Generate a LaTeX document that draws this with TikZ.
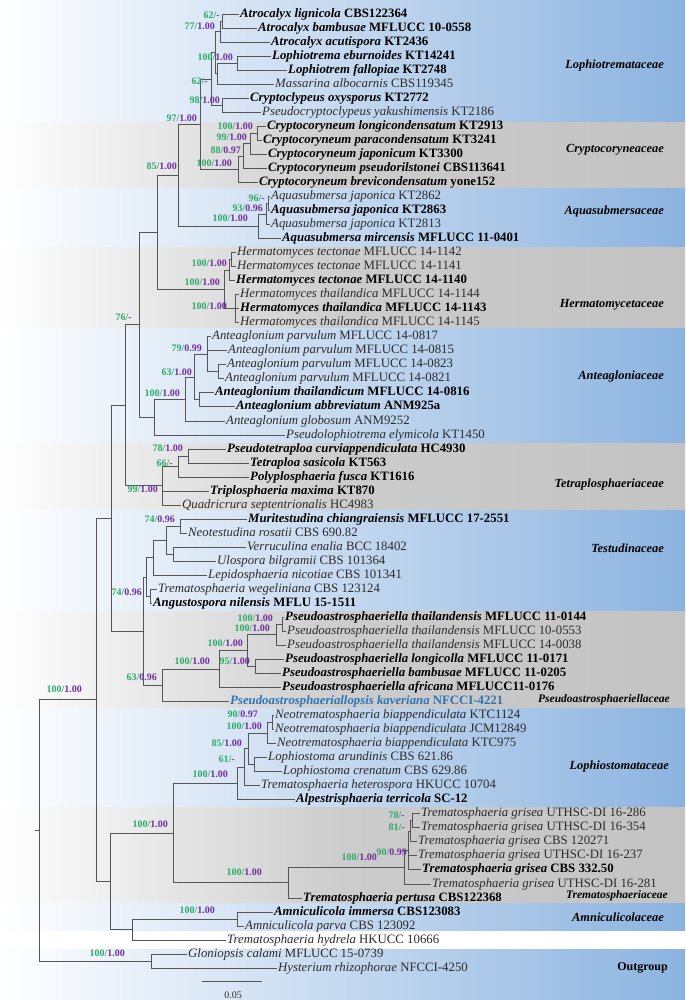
\documentclass[tikz,border=0pt]{standalone}
\usepackage{fontspec}
\setmainfont{Liberation Serif}
\definecolor{bsg}{HTML}{2DAA6A}
\definecolor{bsp}{HTML}{7030A0}
\definecolor{bandblue}{HTML}{8BB3E0}
\definecolor{bandgray}{HTML}{C3C3C3}
\definecolor{treeline}{HTML}{555555}
\definecolor{taxgray}{HTML}{2B2B2B}
\definecolor{kavblue}{HTML}{2E75B6}
\newcommand{\tn}[2]{\textcolor{taxgray}{\textit{#1} #2}}
\newcommand{\tbd}[2]{\textbf{\textit{#1} #2}}
\newcommand{\bsv}[2]{\textcolor{bsg}{#1/}\textcolor{bsp}{#2}}
\tikzset{
  br/.style={draw=treeline, line width=0.75pt},
  tip/.style={anchor=west, inner xsep=1pt, inner ysep=0pt, text height=8.8pt, text depth=2.6pt, font=\fontsize{12.8}{13}\selectfont},
  sup/.style={anchor=east, inner sep=0pt, text height=7pt, text depth=0pt, font=\bfseries\fontsize{10}{11}\selectfont},
  fam/.style={anchor=east, inner sep=0pt, font=\bfseries\itshape\fontsize{12.4}{14}\selectfont},
  famsm/.style={fam, font=\bfseries\itshape\fontsize{11.5}{13}\selectfont},
  blueband/.style={left color=white, right color=bandblue},
  grayband/.style={left color=white, right color=bandgray, middle color=bandgray!85!white}
}
\begin{document}
\begin{tikzpicture}[x=1pt,y=-1pt]
\useasboundingbox (0,0) rectangle (685,1000);
% background bands
\shade[blueband] (0,0) rectangle (685,123);
\shade[grayband] (0,123) rectangle (685,189);
\shade[blueband] (0,189) rectangle (685,247);
\shade[grayband] (0,247) rectangle (685,328);
\shade[blueband] (0,328) rectangle (685,443);
\shade[grayband] (0,443) rectangle (685,510);
\shade[blueband] (0,510) rectangle (685,611);
\shade[grayband] (0,611) rectangle (685,708);
\shade[blueband] (0,708) rectangle (685,807);
\shade[grayband] (0,807) rectangle (685,903);
\shade[blueband] (0,903) rectangle (685,931);
\fill[white] (0,931) rectangle (685,949);
\shade[blueband] (0,949) rectangle (685,1000);

% tips
\node[tip] (s1) at (239,14.0) {\tbd{Atrocalyx lignicola}{CBS122364}};
\node[tip] (s2) at (257,28.0) {\tbd{Atrocalyx bambusae}{MFLUCC 10-0558}};
\node[tip] (s3) at (270,42.1) {\tbd{Atrocalyx acutispora}{KT2436}};
\node[tip] (s4) at (271,56.1) {\tbd{Lophiotrema eburnoides}{KT14241}};
\node[tip] (s5) at (287,70.1) {\tbd{Lophiotrem fallopiae}{KT2748}};
\node[tip] (s6) at (274,84.2) {\tn{Massarina albocarnis}{CBS119345}};
\node[tip] (s7) at (249,98.2) {\tbd{Cryptoclypeus oxysporus}{KT2772}};
\node[tip] (s8) at (261,112.2) {\tn{Pseudocryptoclypeus yakushimensis}{KT2186}};
\node[tip] (s9) at (266,126.2) {\tbd{Cryptocoryneum longicondensatum}{KT2913}};
\node[tip] (s10) at (262,140.3) {\tbd{Cryptocoryneum paracondensatum}{KT3241}};
\node[tip] (s11) at (267,154.3) {\tbd{Cryptocoryneum japonicum}{KT3300}};
\node[tip] (s12) at (267,168.3) {\tbd{Cryptocoryneum pseudorilstonei}{CBS113641}};
\node[tip] (s13) at (258,182.4) {\tbd{Cryptocoryneum brevicondensatum}{yone152}};
\node[tip] (s14) at (270,196.4) {\tn{Aquasubmersa japonica}{KT2862}};
\node[tip] (s15) at (270,210.4) {\tbd{Aquasubmersa japonica}{KT2863}};
\node[tip] (s16) at (270,224.5) {\tn{Aquasubmersa japonica}{KT2813}};
\node[tip] (s17) at (281,238.5) {\tbd{Aquasubmersa mircensis}{MFLUCC 11-0401}};
\node[tip] (s18) at (236,252.5) {\tn{Hermatomyces tectonae}{MFLUCC 14-1142}};
\node[tip] (s19) at (236,266.5) {\tn{Hermatomyces tectonae}{MFLUCC 14-1141}};
\node[tip] (s20) at (235,280.6) {\tbd{Hermatomyces tectonae}{MFLUCC 14-1140}};
\node[tip] (s21) at (239,294.6) {\tn{Hermatomyces thailandica}{MFLUCC 14-1144}};
\node[tip] (s22) at (239,308.6) {\tbd{Hermatomyces thailandica}{MFLUCC 14-1143}};
\node[tip] (s23) at (239,322.7) {\tn{Hermatomyces thailandica}{MFLUCC 14-1145}};
\node[tip] (s24) at (211,336.7) {\tn{Anteaglonium parvulum}{MFLUCC 14-0817}};
\node[tip] (s25) at (227,350.7) {\tn{Anteaglonium parvulum}{MFLUCC 14-0815}};
\node[tip] (s26) at (226,364.8) {\tn{Anteaglonium parvulum}{MFLUCC 14-0823}};
\node[tip] (s27) at (224,378.8) {\tn{Anteaglonium parvulum}{MFLUCC 14-0821}};
\node[tip] (s28) at (214,392.8) {\tbd{Anteaglonium thailandicum}{MFLUCC 14-0816}};
\node[tip] (s29) at (235,406.8) {\tbd{Anteaglonium abbreviatum}{ANM925a}};
\node[tip] (s30) at (225,420.9) {\tn{Anteaglonium globosum}{ANM9252}};
\node[tip] (s31) at (285,434.9) {\tn{Pseudolophiotrema elymicola}{KT1450}};
\node[tip] (s32) at (226,448.9) {\tbd{Pseudotetraploa curviappendiculata}{HC4930}};
\node[tip] (s33) at (249,463.0) {\tbd{Tetraploa sasicola}{KT563}};
\node[tip] (s34) at (249,477.0) {\tbd{Polyplosphaeria fusca}{KT1616}};
\node[tip] (s35) at (209,491.0) {\tbd{Triplosphaeria maxima}{KT870}};
\node[tip] (s36) at (181,505.1) {\tn{Quadricrura septentrionalis}{HC4983}};
\node[tip] (s37) at (247,519.1) {\tbd{Muritestudina chiangraiensis}{MFLUCC 17-2551}};
\node[tip] (s38) at (187,533.1) {\tn{Neotestudina rosatii}{CBS 690.82}};
\node[tip] (s39) at (246,547.1) {\tn{Verruculina enalia}{BCC 18402}};
\node[tip] (s40) at (216,561.2) {\tn{Ulospora bilgramii}{CBS 101364}};
\node[tip] (s41) at (207,575.2) {\tn{Lepidosphaeria nicotiae}{CBS 101341}};
\node[tip] (s42) at (157,589.2) {\tn{Trematosphaeria wegeliniana}{CBS 123124}};
\node[tip] (s43) at (152,603.3) {\tbd{Angustospora nilensis}{MFLU 15-1511}};
\node[tip] (s44) at (284,617.3) {\tbd{Pseudoastrosphaeriella thailandensis}{MFLUCC 11-0144}};
\node[tip] (s45) at (286,631.3) {\tn{Pseudoastrosphaeriella thailandensis}{MFLUCC 10-0553}};
\node[tip] (s46) at (286,645.4) {\tn{Pseudoastrosphaeriella thailandensis}{MFLUCC 14-0038}};
\node[tip] (s47) at (284,659.4) {\tbd{Pseudoastrosphaeriella longicolla}{MFLUCC 11-0171}};
\node[tip] (s48) at (281,673.4) {\tbd{Pseudoastrosphaeriella bambusae}{MFLUCC 11-0205}};
\node[tip] (s49) at (281,687.4) {\tbd{Pseudoastrosphaeriella africana}{MFLUCC11-0176}};
\node[tip, text=kavblue] (s50) at (229,701.5) {\textbf{\textit{Pseudoastrosphaeriallopsis kaveriana} NFCCI-4221}};
\node[tip] (s51) at (274,715.5) {\tn{Neotrematosphaeria biappendiculata}{KTC1124}};
\node[tip] (s52) at (274,729.5) {\tn{Neotrematosphaeria biappendiculata}{JCM12849}};
\node[tip] (s53) at (276,743.6) {\tn{Neotrematosphaeria biappendiculata}{KTC975}};
\node[tip] (s54) at (267,757.6) {\tn{Lophiostoma arundinis}{CBS 621.86}};
\node[tip] (s55) at (282,771.6) {\tn{Lophiostoma crenatum}{CBS 629.86}};
\node[tip] (s56) at (260,785.7) {\tn{Trematosphaeria heterospora}{HKUCC 10704}};
\node[tip] (s57) at (295,799.7) {\tbd{Alpestrisphaeria terricola}{SC-12}};
\node[tip] (s58) at (420,813.7) {\tn{Trematosphaeria grisea}{UTHSC-DI 16-286}};
\node[tip] (s59) at (420,827.7) {\tn{Trematosphaeria grisea}{UTHSC-DI 16-354}};
\node[tip] (s60) at (417,841.8) {\tn{Trematosphaeria grisea}{CBS 120271}};
\node[tip] (s61) at (417,855.8) {\tn{Trematosphaeria grisea}{UTHSC-DI 16-237}};
\node[tip] (s62) at (421,869.8) {\tbd{Trematosphaeria grisea}{CBS 332.50}};
\node[tip] (s63) at (431,883.9) {\tn{Trematosphaeria grisea}{UTHSC-DI 16-281}};
\node[tip] (s64) at (302,897.9) {\tbd{Trematosphaeria pertusa}{CBS122368}};
\node[tip] (s65) at (273,911.9) {\tbd{Amniculicola immersa}{CBS123083}};
\node[tip] (s66) at (244,926.0) {\tn{Amniculicola parva}{CBS 123092}};
\node[tip] (s67) at (226,940.0) {\tn{Trematosphaeria hydrela}{HKUCC 10666}};
\node[tip] (s68) at (187,954.0) {\tn{Gloniopsis calami}{MFLUCC 15-0739}};
\node[tip] (s69) at (277,968.0) {\tn{Hysterium rhizophorae}{NFCCI-4250}};

% internal nodes
\coordinate (nA) at (222,21.0);
\coordinate (nB) at (220,31.55);
\coordinate (nC) at (237,63.1);
\coordinate (nD) at (217,73.65);
\coordinate (nE) at (215,52.6);
\coordinate (nF) at (222,105.2);
\coordinate (nR) at (211,78.9);
\coordinate (nG) at (257,133.25);
\coordinate (nH) at (250,143.8);
\coordinate (nI) at (243,156.0);
\coordinate (nJ) at (238,169.2);
\coordinate (n97) at (200,124.05);
\coordinate (nK) at (268,203.4);
\coordinate (nL) at (266,213.95);
\coordinate (nM) at (258,226.2);
\coordinate (n85) at (178,175.1);
\coordinate (nN) at (231,259.5);
\coordinate (nO) at (229,270.05);
\coordinate (nP) at (235,308.6);
\coordinate (nQ) at (224,289.3);
\coordinate (n157) at (157,232.2);
\coordinate (nS) at (218,371.8);
\coordinate (nT) at (207,354.25);
\coordinate (nU) at (199,399.8);
\coordinate (nV) at (194,377.0);
\coordinate (nW) at (185,398.95);
\coordinate (nX) at (154,416.9);
\coordinate (n139) at (139,324.55);
\coordinate (nY) at (188,455.95);
\coordinate (nZ) at (178,466.5);
\coordinate (nTet) at (162,485.8);
\coordinate (n125) at (125,405.2);
\coordinate (t1) at (180,526.1);
\coordinate (t2) at (173,554.15);
\coordinate (t3) at (166,540.1);
\coordinate (t4) at (153,557.65);
\coordinate (t5) at (150,596.25);
\coordinate (t6) at (146,576.95);
\coordinate (p1) at (282,624.3);
\coordinate (p2) at (276,634.85);
\coordinate (p3) at (255,666.4);
\coordinate (p4) at (247,650.6);
\coordinate (p5) at (219,669.0);
\coordinate (p6) at (162,685.25);
\coordinate (n143) at (143,631.1);
\coordinate (n111) at (111,518.15);
\coordinate (l1) at (272,722.5);
\coordinate (l2) at (267,733.05);
\coordinate (l3) at (254,764.6);
\coordinate (l4) at (248,748.8);
\coordinate (l5) at (244,767.25);
\coordinate (l6) at (237,783.5);
\coordinate (g1) at (412,820.7);
\coordinate (g2) at (410,831.25);
\coordinate (g3) at (408,850.5);
\coordinate (g4) at (404,867.2);
\coordinate (g5) at (288,882.55);
\coordinate (n173) at (173,833.0);
\coordinate (a1) at (237,918.95);
\coordinate (a2) at (132,929.5);
\coordinate (n110) at (110,881.25);
\coordinate (n96) at (96,699.7);
\coordinate (o1) at (151,961.0);
\coordinate (root) at (39,830.35);
\coordinate (stub) at (35,830.35);

% branches
\draw[br] (nA) |- (s1.west); \draw[br] (nA) |- (s2.west);
\draw[br] (nB) |- (nA); \draw[br] (nB) |- (s3.west);
\draw[br] (nC) |- (s4.west); \draw[br] (nC) |- (s5.west);
\draw[br] (nD) |- (nC); \draw[br] (nD) |- (s6.west);
\draw[br] (nE) |- (nB); \draw[br] (nE) |- (nD);
\draw[br] (nF) |- (s7.west); \draw[br] (nF) |- (s8.west);
\draw[br] (nR) |- (nE); \draw[br] (nR) |- (nF);
\draw[br] (nG) |- (s9.west); \draw[br] (nG) |- (s10.west);
\draw[br] (nH) |- (nG); \draw[br] (nH) |- (s11.west);
\draw[br] (nI) |- (nH); \draw[br] (nI) |- (s12.west);
\draw[br] (nJ) |- (nI); \draw[br] (nJ) |- (s13.west);
\draw[br] (n97) |- (nR); \draw[br] (n97) |- (nJ);
\draw[br] (nK) |- (s14.west); \draw[br] (nK) |- (s15.west);
\draw[br] (nL) |- (nK); \draw[br] (nL) |- (s16.west);
\draw[br] (nM) |- (nL); \draw[br] (nM) |- (s17.west);
\draw[br] (n85) |- (n97); \draw[br] (n85) |- (nM);
\draw[br] (nN) |- (s18.west); \draw[br] (nN) |- (s19.west);
\draw[br] (nO) |- (nN); \draw[br] (nO) |- (s20.west);
\draw[br] (nP) |- (s21.west); \draw[br] (nP) |- (s22.west); \draw[br] (nP) |- (s23.west);
\draw[br] (nQ) |- (nO); \draw[br] (nQ) |- (nP);
\draw[br] (n157) |- (n85); \draw[br] (n157) |- (nQ);
\draw[br] (nS) |- (s26.west); \draw[br] (nS) |- (s27.west);
\draw[br] (nT) |- (s24.west); \draw[br] (nT) |- (s25.west); \draw[br] (nT) |- (nS);
\draw[br] (nU) |- (s28.west); \draw[br] (nU) |- (s29.west);
\draw[br] (nV) |- (nT); \draw[br] (nV) |- (nU);
\draw[br] (nW) |- (nV); \draw[br] (nW) |- (s30.west);
\draw[br] (nX) |- (nW); \draw[br] (nX) |- (s31.west);
\draw[br] (n139) |- (n157); \draw[br] (n139) |- (nX);
\draw[br] (nY) |- (s32.west); \draw[br] (nY) |- (s33.west);
\draw[br] (nZ) |- (nY); \draw[br] (nZ) |- (s34.west);
\draw[br] (nTet) |- (nZ); \draw[br] (nTet) |- (s35.west); \draw[br] (nTet) |- (s36.west);
\draw[br] (n125) |- (n139); \draw[br] (n125) |- (nTet);
\draw[br] (t1) |- (s37.west); \draw[br] (t1) |- (s38.west);
\draw[br] (t2) |- (s39.west); \draw[br] (t2) |- (s40.west);
\draw[br] (t3) |- (t1); \draw[br] (t3) |- (t2);
\draw[br] (t4) |- (t3); \draw[br] (t4) |- (s41.west);
\draw[br] (t5) |- (s42.west); \draw[br] (t5) |- (s43.west);
\draw[br] (t6) |- (t4); \draw[br] (t6) |- (t5);
\draw[br] (p1) |- (s44.west); \draw[br] (p1) |- (s45.west);
\draw[br] (p2) |- (p1); \draw[br] (p2) |- (s46.west);
\draw[br] (p3) |- (s47.west); \draw[br] (p3) |- (s48.west);
\draw[br] (p4) |- (p2); \draw[br] (p4) |- (p3);
\draw[br] (p5) |- (p4); \draw[br] (p5) |- (s49.west);
\draw[br] (p6) |- (p5); \draw[br] (p6) |- (s50.west);
\draw[br] (n143) |- (t6); \draw[br] (n143) |- (p6);
\draw[br] (n111) |- (n125); \draw[br] (n111) |- (n143);
\draw[br] (l1) |- (s51.west); \draw[br] (l1) |- (s52.west);
\draw[br] (l2) |- (l1); \draw[br] (l2) |- (s53.west);
\draw[br] (l3) |- (s54.west); \draw[br] (l3) |- (s55.west);
\draw[br] (l4) |- (l2); \draw[br] (l4) |- (l3);
\draw[br] (l5) |- (l4); \draw[br] (l5) |- (s56.west);
\draw[br] (l6) |- (l5); \draw[br] (l6) |- (s57.west);
\draw[br] (g1) |- (s58.west); \draw[br] (g1) |- (s59.west);
\draw[br] (g2) |- (g1); \draw[br] (g2) |- (s60.west);
\draw[br] (g3) |- (g2); \draw[br] (g3) |- (s61.west); \draw[br] (g3) |- (s62.west);
\draw[br] (g4) |- (g3); \draw[br] (g4) |- (s63.west);
\draw[br] (g5) |- (g4); \draw[br] (g5) |- (s64.west);
\draw[br] (n173) |- (l6); \draw[br] (n173) |- (g5);
\draw[br] (a1) |- (s65.west); \draw[br] (a1) |- (s66.west);
\draw[br] (a2) |- (a1); \draw[br] (a2) |- (s67.west);
\draw[br] (n110) |- (n173); \draw[br] (n110) |- (a2);
\draw[br] (n96) |- (n111); \draw[br] (n96) |- (n110);
\draw[br] (o1) |- (s68.west); \draw[br] (o1) |- (s69.west);
\draw[br] (root) |- (n96); \draw[br] (root) |- (o1);
\draw[br] (stub) -- (root);

% support values
\node[sup] (bA) at (220,15) {\bsv{62}{-}};
\node[sup] (bB) at (215,26) {\bsv{77}{1.00}};
\node[sup] (bC) at (233,57) {\bsv{100}{1.00}};
\node[sup] (bR) at (208,81) {\bsv{62}{-}};
\node[sup] (bF) at (220,100) {\bsv{98}{1.00}};
\node[sup] (b97) at (197,118) {\bsv{97}{1.00}};
\node[sup] (bG) at (253,126) {\bsv{100}{1.00}};
\node[sup] (bH) at (247,137) {\bsv{99}{1.00}};
\node[sup] (bI) at (241,150) {\bsv{88}{0.97}};
\node[sup] (bJ) at (232,163) {\bsv{100}{1.00}};
\node[sup] (b85) at (177,166) {\bsv{85}{1.00}};
\node[sup] (bK) at (265,198) {\bsv{96}{-}};
\node[sup] (bL) at (263,208) {\bsv{93}{0.96}};
\node[sup] (bM) at (248,218) {\bsv{100}{1.00}};
\node[sup] (bO) at (227,263) {\bsv{100}{1.00}};
\node[sup] (bQ) at (220,282) {\bsv{100}{1.00}};
\node[sup] (bP) at (227,306) {\bsv{100}{1.00}};
\node[sup] (b139) at (132,317) {\bsv{76}{-}};
\node[sup] (bT) at (202,348) {\bsv{79}{0.99}};
\node[sup] (bV) at (192,372) {\bsv{63}{1.00}};
\node[sup] (bW) at (180,393) {\bsv{100}{1.00}};
\node[sup] (bY) at (183,448) {\bsv{78}{1.00}};
\node[sup] (bZ) at (173,463) {\bsv{66}{-}};
\node[sup] (bTet) at (158,489) {\bsv{99}{1.00}};
\node[sup] (bt1) at (175,519) {\bsv{74}{0.96}};
\node[sup] (bt5) at (142,592) {\bsv{74}{0.96}};
\node[sup] (bp1) at (273,618) {\bsv{100}{1.00}};
\node[sup] (bp2) at (270,628) {\bsv{100}{1.00}};
\node[sup] (bp4) at (243,643) {\bsv{100}{1.00}};
\node[sup] (bp3) at (250,661) {\bsv{95}{1.00}};
\node[sup] (bp5) at (210,661) {\bsv{100}{1.00}};
\node[sup] (bp6) at (157,677) {\bsv{63}{0.96}};
\node[sup] (b96) at (82,689) {\bsv{100}{1.00}};
\node[sup] (bl1) at (258,714) {\bsv{90}{0.97}};
\node[sup] (bl2) at (262,726) {\bsv{100}{1.00}};
\node[sup] (bl4) at (242,743) {\bsv{85}{1.00}};
\node[sup] (bl5) at (235,759) {\bsv{61}{-}};
\node[sup] (bl6) at (228,774) {\bsv{100}{1.00}};
\node[sup] (b173) at (168,824) {\bsv{100}{1.00}};
\node[sup] (bg1) at (405,815) {\bsv{78}{-}};
\node[sup] (bg2) at (405,827) {\bsv{81}{-}};
\node[sup] (bg3) at (407,852) {\bsv{90}{0.99}};
\node[sup] (bg4) at (377,857) {\bsv{100}{1.00}};
\node[sup] (bg5) at (262,872) {\bsv{100}{1.00}};
\node[sup] (ba1) at (215,910) {\bsv{100}{1.00}};
\node[sup] (bo1) at (125,953) {\bsv{100}{1.00}};

% family labels
\node[fam] (f1) at (664,66) {Lophiotremataceae};
\node[fam] (f2) at (664,150) {Cryptocoryneaceae};
\node[fam] (f3) at (664,212) {Aquasubmersaceae};
\node[fam] (f4) at (664,305) {Hermatomycetaceae};
\node[fam] (f5) at (664,377) {Anteagloniaceae};
\node[fam] (f6) at (664,485) {Tetraplosphaeriaceae};
\node[fam] (f7) at (664,548) {Testudinaceae};
\node[famsm] (f8) at (670,700) {Pseudoastrosphaeriellaceae};
\node[fam] (f9) at (669,767) {Lophiostomataceae};
\node[famsm] (f10) at (668,896) {Trematosphaeriaceae};
\node[fam] (f11) at (664,917) {Amniculicolaceae};
\node[anchor=east, inner sep=0pt, font=\bfseries\fontsize{12}{14}\selectfont] (f12) at (668,968) {Outgroup};

% scale bar
\coordinate (sb1) at (202,981);
\coordinate (sb2) at (262,981);
\draw[br] (sb1) -- (sb2);
\node[font=\fontsize{10}{12}\selectfont, text=taxgray, inner sep=0pt] (sbl) at (233,995) {0.05};
\end{tikzpicture}
\end{document}
